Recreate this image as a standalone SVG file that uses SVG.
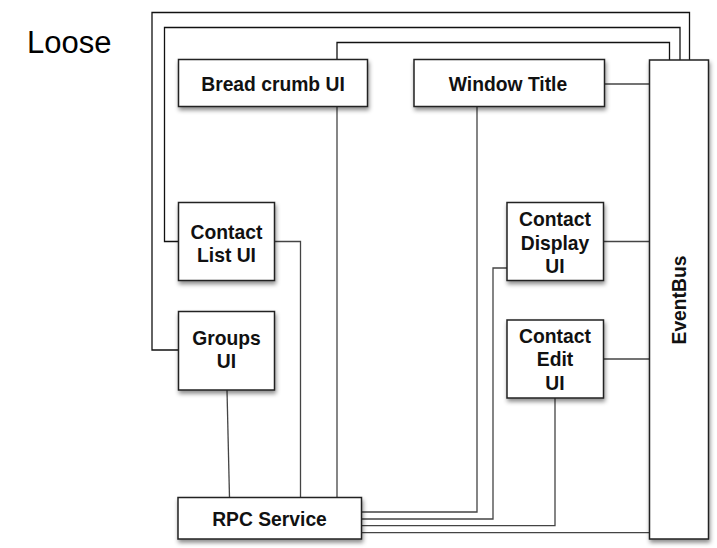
<svg xmlns="http://www.w3.org/2000/svg" width="717" height="548" viewBox="0 0 717 548">
<defs>
<filter id="sh" x="-20%" y="-20%" width="140%" height="150%">
<feDropShadow dx="1" dy="3" stdDeviation="2.2" flood-color="#000" flood-opacity="0.45"/>
</filter>
<style>
.box{fill:#fff;stroke:#222;stroke-width:1.5;filter:url(#sh)}
.lbl{font-family:"Liberation Sans",Arial,sans-serif;font-weight:bold;font-size:19.3px;fill:#111;text-anchor:middle}
.c{fill:none;stroke:#444;stroke-width:1.3}
.k{fill:none;stroke:#111;stroke-width:1.3}
</style>
</defs>
<rect width="717" height="548" fill="#fff"/>
<text x="27" y="53" font-family="Liberation Sans,Arial,sans-serif" font-size="31" fill="#000">Loose</text>
<g id="connectors">
<polyline class="k" points="178,350 152,350 152,12.5 689.5,12.5 689.5,60"/>
<polyline class="k" points="178,241.5 164.5,241.5 164.5,27.5 680,27.5 680,60"/>
<polyline class="k" points="337,60 337,42.5 669.5,42.5 669.5,60"/>
<line class="c" x1="605" y1="84" x2="650" y2="84"/>
<line class="c" x1="604" y1="241.5" x2="650" y2="241.5"/>
<line class="c" x1="604" y1="359" x2="650" y2="359"/>
<line class="c" x1="337" y1="107" x2="337" y2="498"/>
<polyline class="c" points="275,241.5 300.5,241.5 300.5,498"/>
<line class="c" x1="227" y1="390" x2="229.5" y2="498"/>
<polyline class="c" points="477,107 477,512 362,512"/>
<polyline class="c" points="507,268 493,268 493,519 362,519"/>
<polyline class="c" points="555,398 555,525.7 362,525.7"/>
<line class="c" x1="362" y1="532.7" x2="650" y2="532.7"/>
</g>
<g id="breadcrumb"><rect class="box" x="178.5" y="59.5" width="189" height="47"/><text class="lbl" x="273" y="90.5">Bread crumb UI</text></g>
<g id="windowtitle"><rect class="box" x="414" y="59.5" width="190.5" height="47"/><text class="lbl" x="508" y="90.5">Window Title</text></g>
<g id="eventbus"><rect class="box" x="649.5" y="60" width="59" height="479"/><text class="lbl" transform="translate(686,300) rotate(-90)">EventBus</text></g>
<g id="contactlist"><rect class="box" x="178.5" y="202.5" width="96" height="78"/><text class="lbl" x="226.5" y="238.5">Contact</text><text class="lbl" x="226.5" y="261.5">List UI</text></g>
<g id="groups"><rect class="box" x="178.5" y="311.5" width="96" height="78.5"/><text class="lbl" x="226.5" y="345">Groups</text><text class="lbl" x="226.5" y="368">UI</text></g>
<g id="contactdisplay"><rect class="box" x="507" y="202.5" width="96.5" height="78"/><text class="lbl" x="555" y="226">Contact</text><text class="lbl" x="555" y="249.5">Display</text><text class="lbl" x="555" y="273">UI</text></g>
<g id="contactedit"><rect class="box" x="507" y="320" width="96.5" height="78"/><text class="lbl" x="555" y="342.5">Contact</text><text class="lbl" x="555" y="366">Edit</text><text class="lbl" x="555" y="389.5">UI</text></g>
<g id="rpc"><rect class="box" x="178" y="497.5" width="183.5" height="41.5"/><text class="lbl" x="269.5" y="525.5">RPC Service</text></g>
</svg>
